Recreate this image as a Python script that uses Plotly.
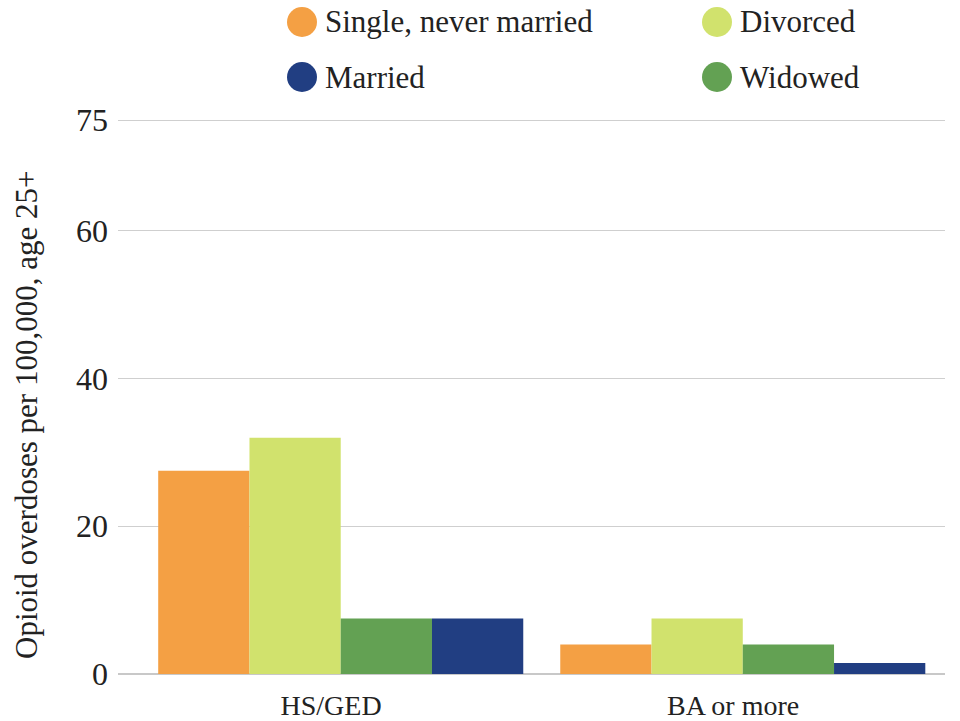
import plotly.graph_objects as go

categories = ["HS/GED", "BA or more"]
series_names = ["Single, never married", "Divorced", "Widowed", "Married"]
single = [27.5, 4.0]
divorced = [32.0, 7.5]
widowed = [7.5, 4.0]
married = [7.5, 1.5]
y_ticks = [0, 20, 40, 60, 75]

values = [single, divorced, widowed, married]
colors = ["#F4A044", "#D1E26D", "#63A153", "#213E82"]
offsets = [-0.43, -0.203, 0.024, 0.251]
FONT = "Liberation Serif"

fig = go.Figure()
for name, vals, col, off in zip(series_names, values, colors, offsets):
    fig.add_trace(go.Bar(x=categories, y=vals, name=name, marker=dict(color=col, line=dict(width=0)),
                         width=0.227, offset=off, showlegend=False))

W, H = 960, 721
L, R, T, B = 118, 15, 118, 47
pw, ph = W - L - R, H - T - B
ytop = ph / (554 / 75)
fig.update_layout(
    width=W, height=H, barmode="overlay",
    margin=dict(l=L, r=R, t=T, b=B),
    plot_bgcolor="white", paper_bgcolor="white",
    font=dict(family=FONT, color="#222222"),
    xaxis=dict(type="category", range=[-0.53, 1.527], showgrid=False, ticks="",
               tickfont=dict(size=28, color="#222222"), ticklabelstandoff=12,
               showline=False, zeroline=False, automargin=False),
    yaxis=dict(range=[0, ytop], tickvals=y_ticks, showgrid=True, gridcolor="#CFCFCF", gridwidth=1.3,
               zeroline=True, zerolinecolor="#C8C8C8", zerolinewidth=2,
               tickfont=dict(size=32, color="#222222"), ticklabelstandoff=9, showline=False,
               automargin=False),
)

# y-axis title
fig.add_annotation(text="Opioid overdoses per 100,000, age 25+", xref="paper", yref="paper",
                   x=(26 - L) / pw, y=(H - B - 415) / ph, textangle=-90,
                   showarrow=False, font=dict(size=31, color="#222222"), xanchor="center", yanchor="middle")

# custom legend with circles
legend_items = [("Single, never married", colors[0], 302, 22), ("Divorced", colors[1], 717, 22),
                ("Married", colors[3], 302, 77), ("Widowed", colors[2], 717, 77)]
for label, col, cx, cy in legend_items:
    px = (cx - L) / pw
    py = (H - B - cy) / ph
    fig.add_shape(type="circle", xref="paper", yref="paper", xsizemode="pixel", ysizemode="pixel",
                  xanchor=px, yanchor=py, x0=-15, x1=15, y0=-15, y1=15,
                  fillcolor=col, line=dict(width=0))
    fig.add_annotation(text=label, xref="paper", yref="paper", x=(cx + 21 - L) / pw, y=py,
                       xanchor="left", yanchor="middle", showarrow=False,
                       font=dict(size=31, color="#222222"))

fig.write_html("out.html", config={"displayModeBar": False},
               post_script="document.body.style.margin='0';document.body.style.overflow='hidden';")
